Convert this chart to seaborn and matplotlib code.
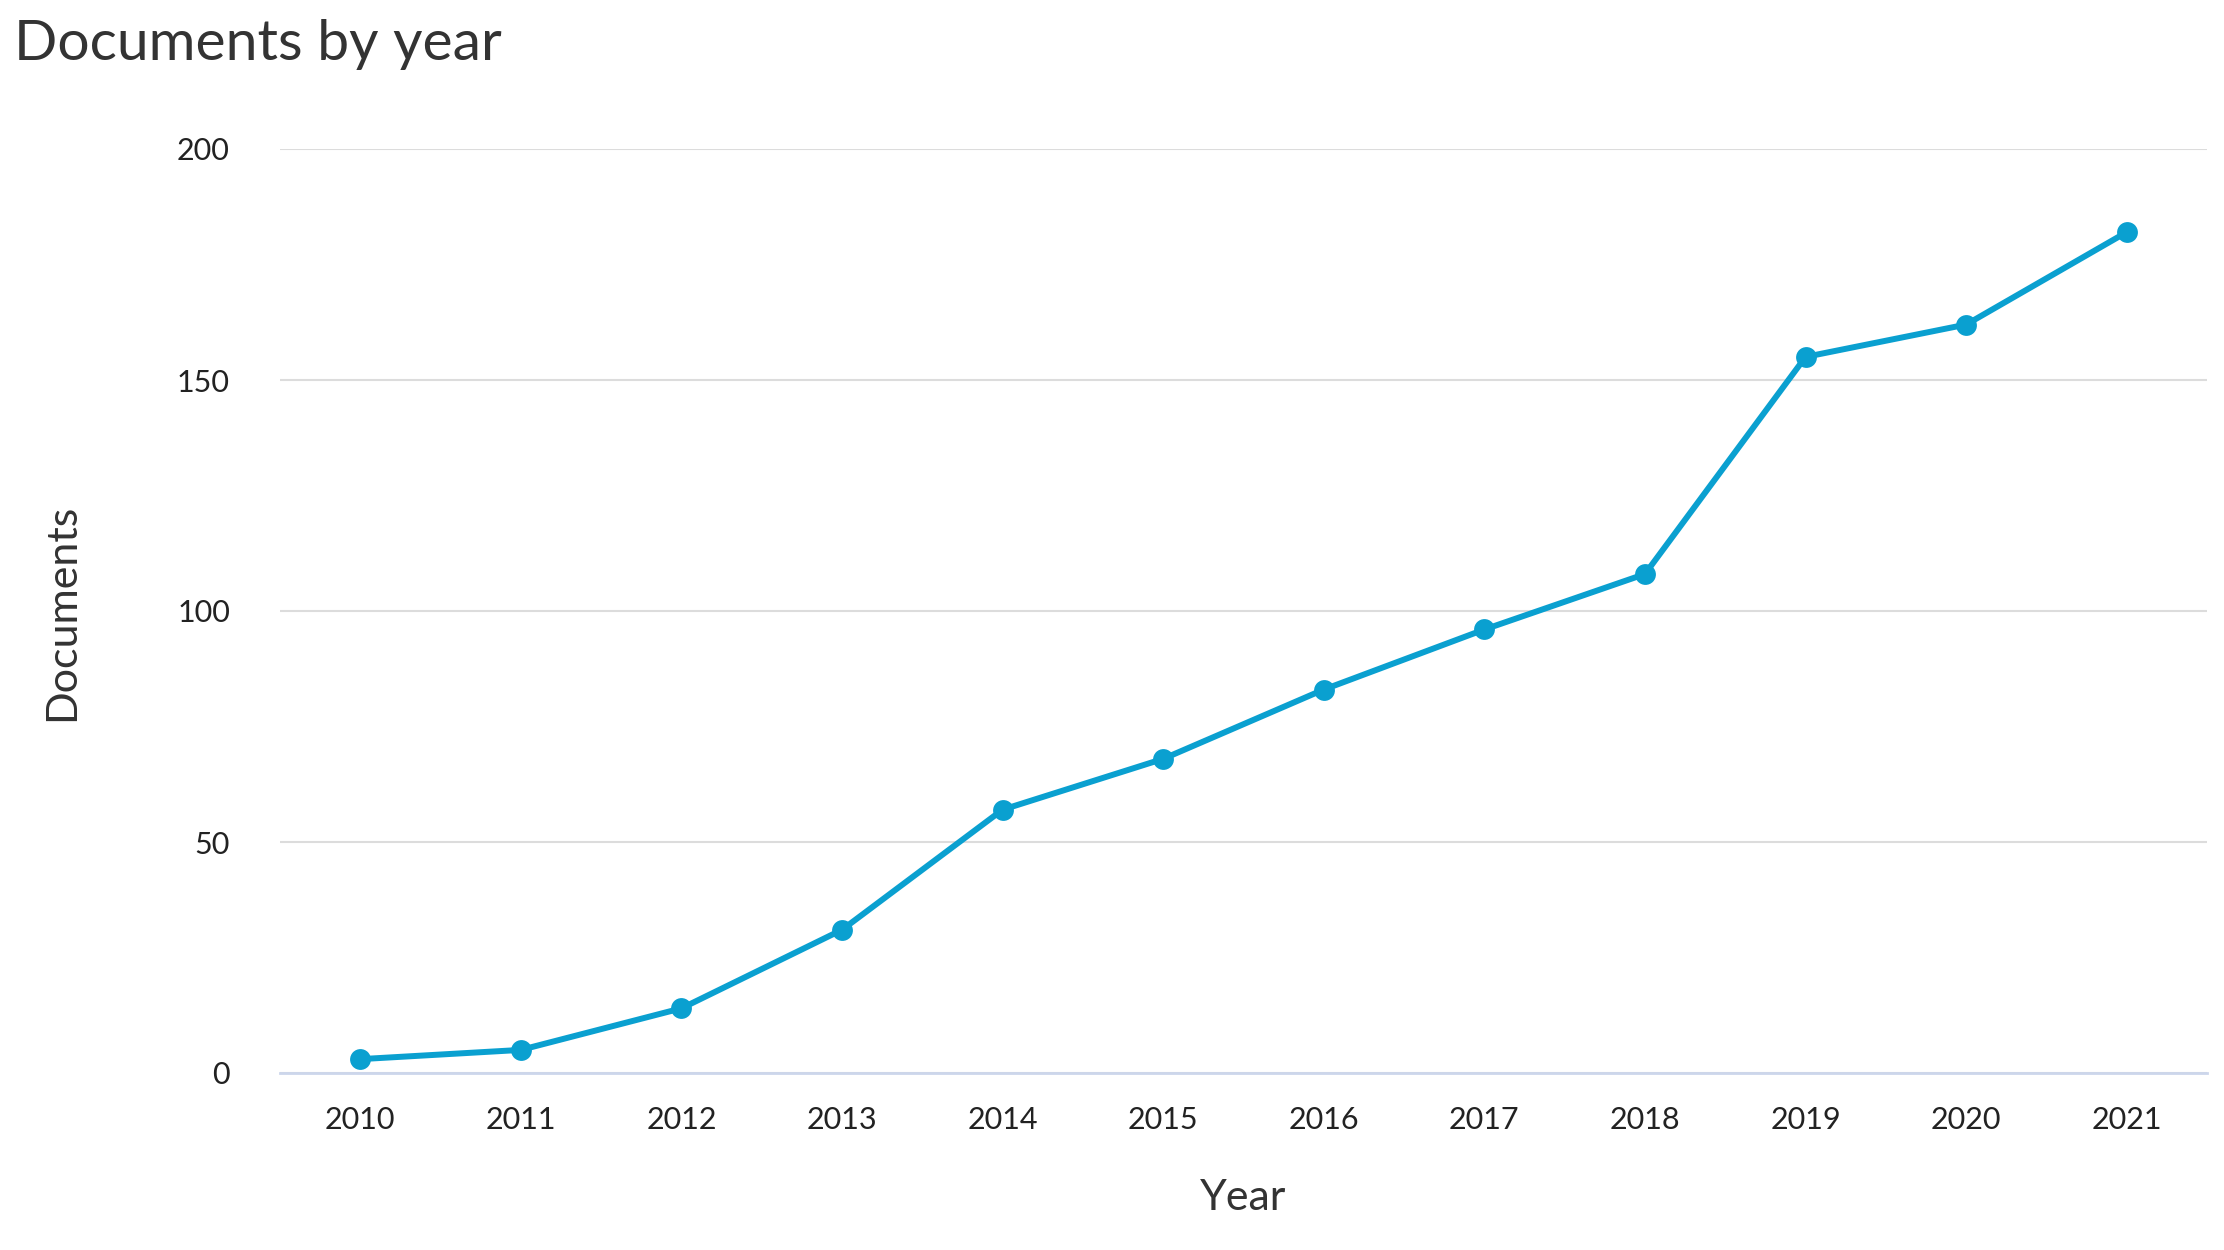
import pandas as pd
import matplotlib.pyplot as plt
import seaborn as sns

# Dados
anos = [2010, 2011, 2012, 2013, 2014, 2015, 2016, 2017, 2018, 2019, 2020, 2021]
documentos = [3, 5, 14, 31, 57, 68, 83, 96, 108, 155, 162, 182]
y_ticks = [0, 50, 100, 150, 200]

df = pd.DataFrame({"Year": anos, "Documents": documentos})

sns.set_theme(style="white")
plt.rcParams["font.family"] = ["Lato", "DejaVu Sans"]

fig = plt.figure(figsize=(22.24, 12.5), dpi=100)
ax = fig.add_axes([280 / 2224, 1 - 1073 / 1250, (2207 - 280) / 2224, (1073 - 149) / 1250])

sns.lineplot(
    data=df, x="Year", y="Documents", ax=ax,
    color="#0AA0D0", linewidth=4.3, marker="o", markersize=15,
    markeredgewidth=0,
)

ax.set_xlim(2009.5, 2021.5)
ax.set_ylim(0, 200)
ax.set_xticks(anos)
ax.set_xticklabels([str(a) for a in anos])
ax.set_yticks(y_ticks)
ax.grid(axis="y", color="#DCDCDC", linewidth=1.5)
ax.grid(axis="x", visible=False)

for lado in ["top", "right", "left"]:
    ax.spines[lado].set_visible(False)
ax.spines["bottom"].set_color("#CCD6EB")
ax.spines["bottom"].set_linewidth(2)

ax.tick_params(axis="x", length=0, pad=24, labelsize=22, labelcolor="#222222")
ax.tick_params(axis="y", length=0, pad=36, labelsize=22, labelcolor="#222222")

ax.set_xlabel("")
ax.set_ylabel("")
fig.text(1243 / 2224, 1 - 1198 / 1250, "Year", ha="center", va="center",
         fontsize=31, color="#333333")
fig.text(62 / 2224, 1 - 612 / 1250, "Documents", ha="center", va="center",
         rotation=90, fontsize=31, color="#333333")
fig.text(14 / 2224, 1 - 45 / 1250, "Documents by year", ha="left", va="center",
         fontsize=41, color="#333333")

fig.savefig("out.png", dpi=100, facecolor="white")
